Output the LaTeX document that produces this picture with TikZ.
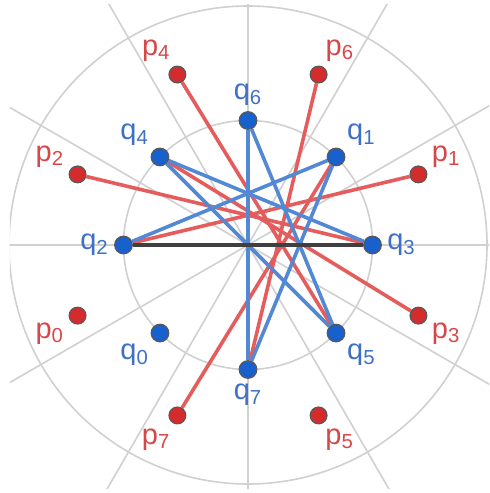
\documentclass[tikz,border=0pt]{standalone}
\usepackage{fontspec}
\setmainfont{Liberation Sans}
\usetikzlibrary{backgrounds}
\definecolor{pfill}{RGB}{212,44,44}
\definecolor{pline}{RGB}{229,92,92}
\definecolor{ptext}{RGB}{214,72,72}
\definecolor{qfill}{RGB}{24,96,204}
\definecolor{qline}{RGB}{82,136,212}
\definecolor{qtext}{RGB}{62,112,198}
\definecolor{gridgray}{RGB}{208,208,208}
\tikzset{
    % red points (outer ring) and blue points (inner circle)
    pdot/.style={circle, draw=black!65, fill=pfill, line width=0.6pt, inner sep=0pt, minimum size=8.4pt},
    qdot/.style={circle, draw=black!65, fill=qfill, line width=0.6pt, inner sep=0pt, minimum size=8.8pt},
    % point names, set radially outside the dot
    plab/.style={text=ptext, font=\fontsize{14.5}{16}\selectfont, inner sep=1pt},
    qlab/.style={text=qtext, font=\fontsize{14.5}{16}\selectfont, inner sep=1pt},
    % polar grid
    guide/.style={gridgray, line width=0.8pt},
    % matching edges
    pedge/.style={pline, line width=1.8pt},
    qedge/.style={qline, line width=1.8pt},
    base/.style={black!75, line width=1.8pt},
}

\begin{document}
\begin{tikzpicture}[x=0.5pt, y=0.5pt, label distance=1.5pt]
    \useasboundingbox (-248,-248) rectangle (241,245);
    \coordinate (o) at (0,0);

    % --- polar grid ---
    \begin{pgfonlayer}{background}
    \begin{scope}
        \clip (-238,-243) rectangle (241,240);
        \draw[guide] (o) circle (124.5);
        \draw[guide] (o) circle (239);
        \foreach \a in {0,30,...,330}
            \draw[guide] (o) -- (\a:400);
    \end{scope}
    \end{pgfonlayer}

    % --- inner points q ---
    \foreach \i/\a in {0/225, 1/45, 2/180, 3/0, 4/135, 5/315, 6/90, 7/270}
        \node[qdot, label={[qlab]\a:{q\textsubscript{\i}}}] (q\i) at (\a:124.5) {};

    % --- outer points p ---
    \foreach \i/\a in {0/202.5, 1/22.5, 2/157.5, 3/337.5, 4/112.5, 5/292.5, 6/67.5, 7/247.5}
        \node[pdot, label={[plab]\a:{p\textsubscript{\i}}}] (p\i) at (\a:184.5) {};

    % --- edges, behind the dots ---
    \begin{pgfonlayer}{background}
        \foreach \s/\t in {p1/q2, p2/q3, p3/q4, p4/q5, p6/q7, p7/q1}
            \draw[pedge] (\s) -- (\t);
        \foreach \s/\t in {q1/q2, q1/q7, q4/q3, q4/q5, q6/q7, q6/q5}
            \draw[qedge] (\s) -- (\t);
        \draw[base] (q2) -- (q3);
    \end{pgfonlayer}

\end{tikzpicture}
\end{document}
